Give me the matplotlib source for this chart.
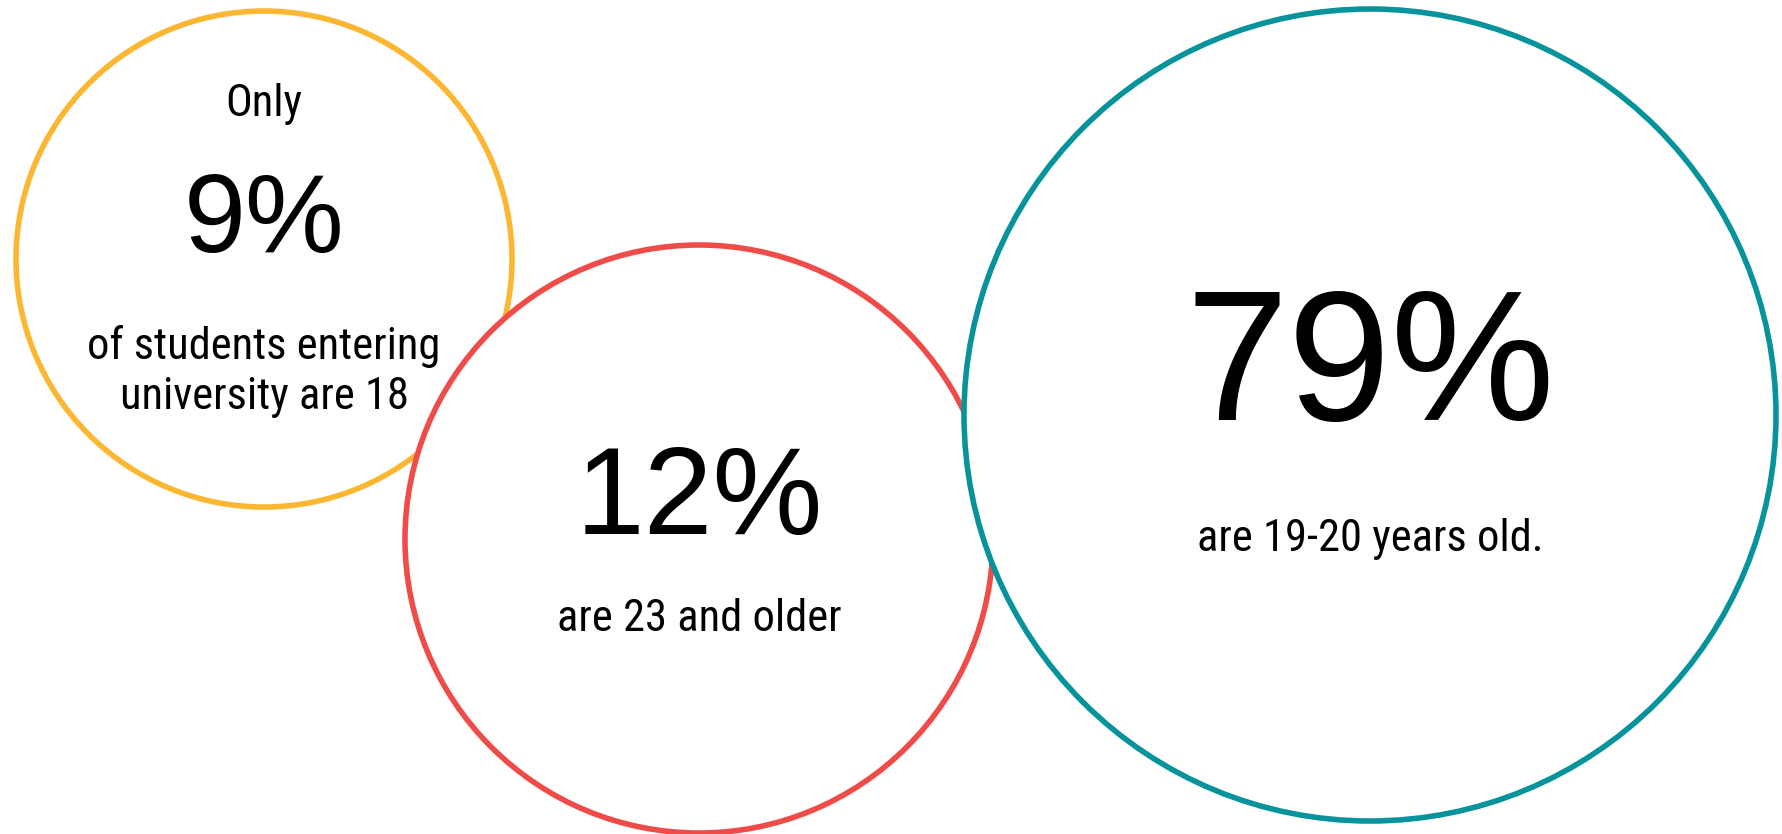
import matplotlib
matplotlib.use("Agg")
import matplotlib.pyplot as plt
from matplotlib.patches import Circle
from matplotlib import font_manager
from matplotlib.font_manager import FontProperties

# ---- data ----
shares = [9, 12, 79]
pct_labels = ["9%", "12%", "79%"]
top_notes = [["Only"], [], []]
bottom_notes = [["of students entering", "university are 18"], ["are 23 and older"], ["are 19-20 years old."]]

# ---- layout / style ----
W, H = 1782, 834
centers = [(264, 259), (699, 539), (1370, 415)]
radii = [248, 294, 406]
colors = ["#FBB732", "#EF4B48", "#06939B"]
pct_sizes = [80, 89, 133]
pct_baselines = [252, 534, 420]
top_baselines = [[116], [], []]
bottom_baselines = [[359, 409], [631], [551]]

# pick a condensed sans face if one is installed
ttf = font_manager.fontManager.ttflist
def find(pred):
    for f in ttf:
        if pred(f) and f.style == "normal" and f.weight in (400, "normal", "regular"):
            return f
    return None

choice = (find(lambda f: f.name == "Liberation Sans Narrow")
          or find(lambda f: f.name == "Roboto Condensed")
          or find(lambda f: "Condensed" in f.name and "Sans" in f.name)
          or find(lambda f: f.name in ("DejaVu Sans", "Open Sans", "Noto Sans") and str(f.stretch) in ("condensed", "semi-condensed", "75", "87.5")))
if choice is not None:
    small_fp = FontProperties(fname=choice.fname)
    small_size = 33 if "Liberation" in choice.name else 32
else:
    small_fp = FontProperties(family="Liberation Sans")
    small_size = 30

fig = plt.figure(figsize=(W / 100, H / 100), dpi=100)
ax = fig.add_axes([0, 0, 1, 1])
ax.set_xlim(0, W)
ax.set_ylim(H, 0)
ax.set_aspect("equal")
ax.axis("off")

for i, (c, r, col) in enumerate(zip(centers, radii, colors)):
    ax.add_patch(Circle(c, r, facecolor="white", edgecolor=col, linewidth=4.0, zorder=1 + i))

for i in range(len(shares)):
    cx = centers[i][0]
    ax.text(cx, pct_baselines[i], pct_labels[i], ha="center", va="baseline",
            fontsize=pct_sizes[i], family="Liberation Sans", color="black", zorder=10)
    for line, yb in zip(top_notes[i], top_baselines[i]):
        ax.text(cx, yb, line, ha="center", va="baseline", fontproperties=small_fp,
                fontsize=small_size, color="black", zorder=10)
    for line, yb in zip(bottom_notes[i], bottom_baselines[i]):
        ax.text(cx, yb, line, ha="center", va="baseline", fontproperties=small_fp,
                fontsize=small_size, color="black", zorder=10)

fig.savefig("out.png", dpi=100, facecolor="white")
